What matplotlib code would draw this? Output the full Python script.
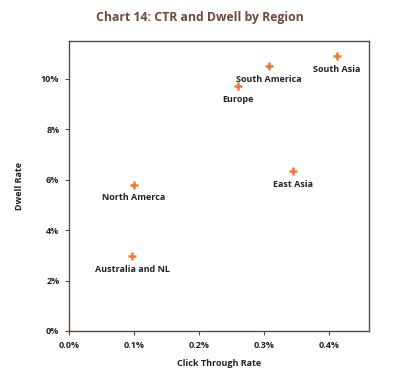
import matplotlib
matplotlib.use("Agg")
import matplotlib.pyplot as plt
from matplotlib.ticker import FuncFormatter

regions = ["South Asia", "South America", "Europe", "East Asia", "North Amerca", "Australia and NL"]
ctr = [0.412, 0.308, 0.260, 0.345, 0.100, 0.097]      # percent
dwell = [10.9, 10.5, 9.7, 6.35, 5.8, 2.98]            # percent

plt.rcParams['font.family'] = ['Open Sans', 'DejaVu Sans']
fig = plt.figure(figsize=(4.0, 3.74), dpi=100)
ax = fig.add_axes([69/400, 1-331/374, 300/400, 290/374])

ax.scatter(ctr, dwell, marker='+', s=28, linewidths=1.8, color='#f07830', zorder=3)
for name, x, y in zip(regions, ctr, dwell):
    ax.annotate(name, (x, y), xytext=(0, -9.5), textcoords='offset points',
                ha='center', va='center', fontsize=6.5, fontweight='bold', color='#222222')

ax.set_xlim(0, 0.4615)
ax.set_ylim(0, 11.5)
ax.set_xticks([0.0, 0.1, 0.2, 0.3, 0.4])
ax.set_yticks([0, 2, 4, 6, 8, 10])
ax.xaxis.set_major_formatter(FuncFormatter(lambda v, p: f"{v:.1f}%"))
ax.yaxis.set_major_formatter(FuncFormatter(lambda v, p: f"{v:.0f}%"))
for s in ax.spines.values():
    s.set_color('#5a4a42')
    s.set_linewidth(1.0)
ax.tick_params(axis='both', length=3, width=0.8, color='#5a4a42', labelsize=6.5, labelcolor='#222222', pad=4)
for lbl in ax.get_xticklabels() + ax.get_yticklabels():
    lbl.set_fontweight('bold')
ax.set_xlabel("Click Through Rate", fontsize=6.5, fontweight='bold', color='#222222', labelpad=7)
ax.set_ylabel("Dwell Rate", fontsize=6.5, fontweight='bold', color='#222222', labelpad=12)

fig.text(0.5, 1-17/374, "Chart 14: CTR and Dwell by Region", ha='center', va='center',
         fontsize=8.8, fontweight='bold', color='#6b4a3a')

fig.savefig("out.png", dpi=100, facecolor='white')
